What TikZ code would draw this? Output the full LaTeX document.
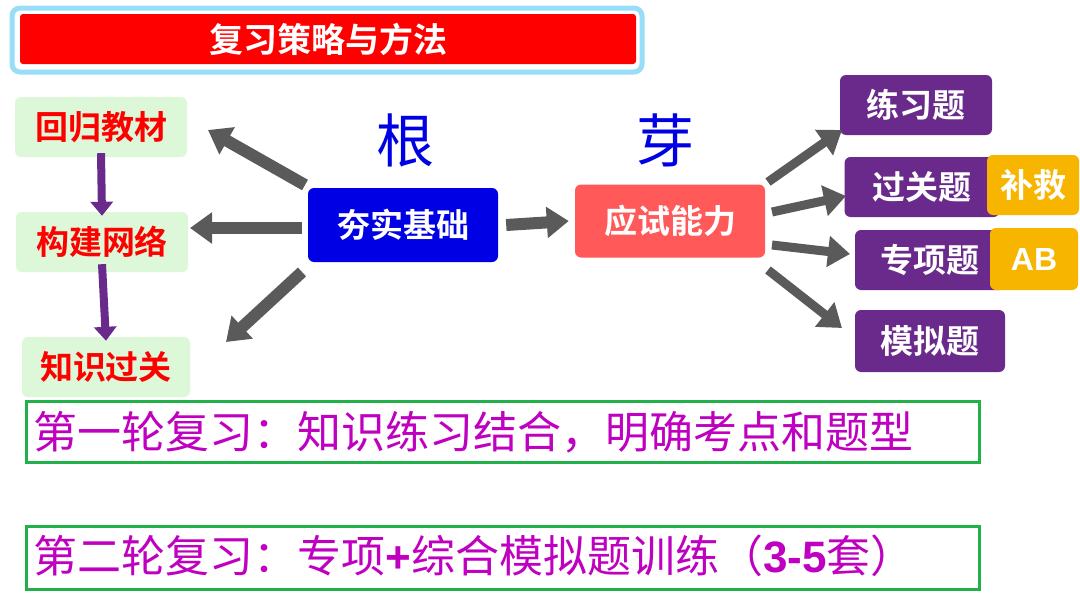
\documentclass[tikz,border=0pt]{standalone}
\usepackage{fontspec}
\newfontfamily\cjk{Noto Sans CJK SC}[BoldFont={Noto Sans CJK SC Bold}]
\newfontfamily\lib{Liberation Sans}
\usetikzlibrary{arrows.meta}
\definecolor{grn}{HTML}{DDF8D8}
\definecolor{pur}{HTML}{6A2A8C}
\definecolor{org}{HTML}{F7B500}
\definecolor{mag}{HTML}{C000C0}
\definecolor{gline}{HTML}{22B04A}
\definecolor{garr}{HTML}{5A5A5A}
\tikzset{
 gbox/.style={fill=grn,rounded corners=6pt,text=red,font=\cjk\bfseries\fontsize{33}{35}\selectfont},
 pbox/.style={fill=pur,rounded corners=6pt,text=white,font=\cjk\bfseries\fontsize{33}{35}\selectfont},
 obox/.style={fill=org,rounded corners=6pt,text=white,font=\cjk\bfseries\fontsize{33}{35}\selectfont},
 garrow/.style={draw=garr,line width=12pt,-{Triangle[length=22pt,width=30pt]}},
 parrow/.style={draw=pur,line width=8pt,-{Triangle[length=14pt,width=22pt]}},
 lbox/.style={draw=gline,line width=2.5pt},
}
\begin{document}
\begin{tikzpicture}[x=1pt,y=-1pt]
\useasboundingbox (0,0) rectangle (1080,597);
\fill[white] (0,0) rectangle (1080,597);
% title
\draw[rounded corners=8pt,draw=cyan!40,line width=5pt,fill=white] (12,8) rectangle (642,72);
\node[fill=red,rounded corners=3pt,minimum width=616pt,minimum height=50pt,text=white,font=\cjk\bfseries\fontsize{34}{36}\selectfont] (title) at (328,39) {复习策略与方法};
% left
\node[gbox,minimum width=172pt,minimum height=60pt] (hg) at (101,127) {回归教材};
\node[gbox,minimum width=172pt,minimum height=60pt] (gj) at (102,242) {构建网络};
\node[gbox,minimum width=168pt,minimum height=60pt] (zs) at (106,367) {知识过关};
\draw[parrow] ([yshift=4pt]hg.south) -- ([yshift=-4pt]gj.north);
\draw[parrow] ([yshift=8pt]gj.south) -- ([yshift=-4pt]zs.north);
% center
\node[fill=blue!90!black,rounded corners=6pt,minimum width=190pt,minimum height=74pt,text=white,font=\cjk\bfseries\fontsize{33}{35}\selectfont] (hs) at (403,225) {夯实基础};
\node[fill=red!65!white,rounded corners=6pt,minimum width=190pt,minimum height=73pt,text=white,font=\cjk\bfseries\fontsize{33}{35}\selectfont] (ys) at (670,221) {应试能力};
\node[text=blue!90!black,font=\cjk\fontsize{58}{60}\selectfont] (gen) at (405,140) {根};
\node[text=blue!90!black,font=\cjk\fontsize{58}{60}\selectfont] (ya) at (665,140) {芽};
\coordinate (a1) at (305,185); \coordinate (a1e) at (208,130);
\coordinate (a2) at (302,228); \coordinate (a2e) at (190,228);
\coordinate (a3) at (302,272); \coordinate (a3e) at (226,342);
\draw[garrow] (a1) -- (a1e);
\draw[garrow] (a2) -- (a2e);
\draw[garrow] (a3) -- (a3e);
\draw[garrow] (hs.east) ++(8,0) -- ([xshift=-6pt]ys.west);
% right
\node[pbox,minimum width=152pt,minimum height=60pt] (lx) at (916,105) {练习题};
\node[pbox,minimum width=155pt,minimum height=60pt] (gg) at (922,187) {过关题};
\node[obox,minimum width=92pt,minimum height=60pt] (bj) at (1033,185) {补救};
\node[pbox,minimum width=150pt,minimum height=60pt] (zx) at (930,260) {专项题};
\node[obox,minimum width=88pt,minimum height=62pt,font=\lib\bfseries\fontsize{32}{34}\selectfont] (ab) at (1034,259) {AB};
\node[pbox,minimum width=150pt,minimum height=62pt] (mn) at (930,341) {模拟题};
\draw[garrow,line width=9pt] (768,182) -- (842,130);
\draw[garrow,line width=9pt] (772,212) -- (846,196);
\draw[garrow,line width=9pt] (772,245) -- (850,254);
\draw[garrow,line width=9pt] (768,270) -- (842,328);
% bottom
\node[lbox,minimum width=953pt,minimum height=61pt] (l1) at (503,432) {};
\node[anchor=west,text=mag,font=\cjk\fontsize{44}{46}\selectfont] (t1) at (30,432) {第一轮复习：知识练习结合，明确考点和题型};
\node[lbox,minimum width=953pt,minimum height=63pt] (l2) at (503,558) {};
\node[anchor=west,text=mag,font=\cjk\fontsize{44}{46}\selectfont] (t2) at (30,556) {第二轮复习：专项{\lib\bfseries +}综合模拟题训练（{\lib\bfseries 3-5}套）};
\end{tikzpicture}
\end{document}
